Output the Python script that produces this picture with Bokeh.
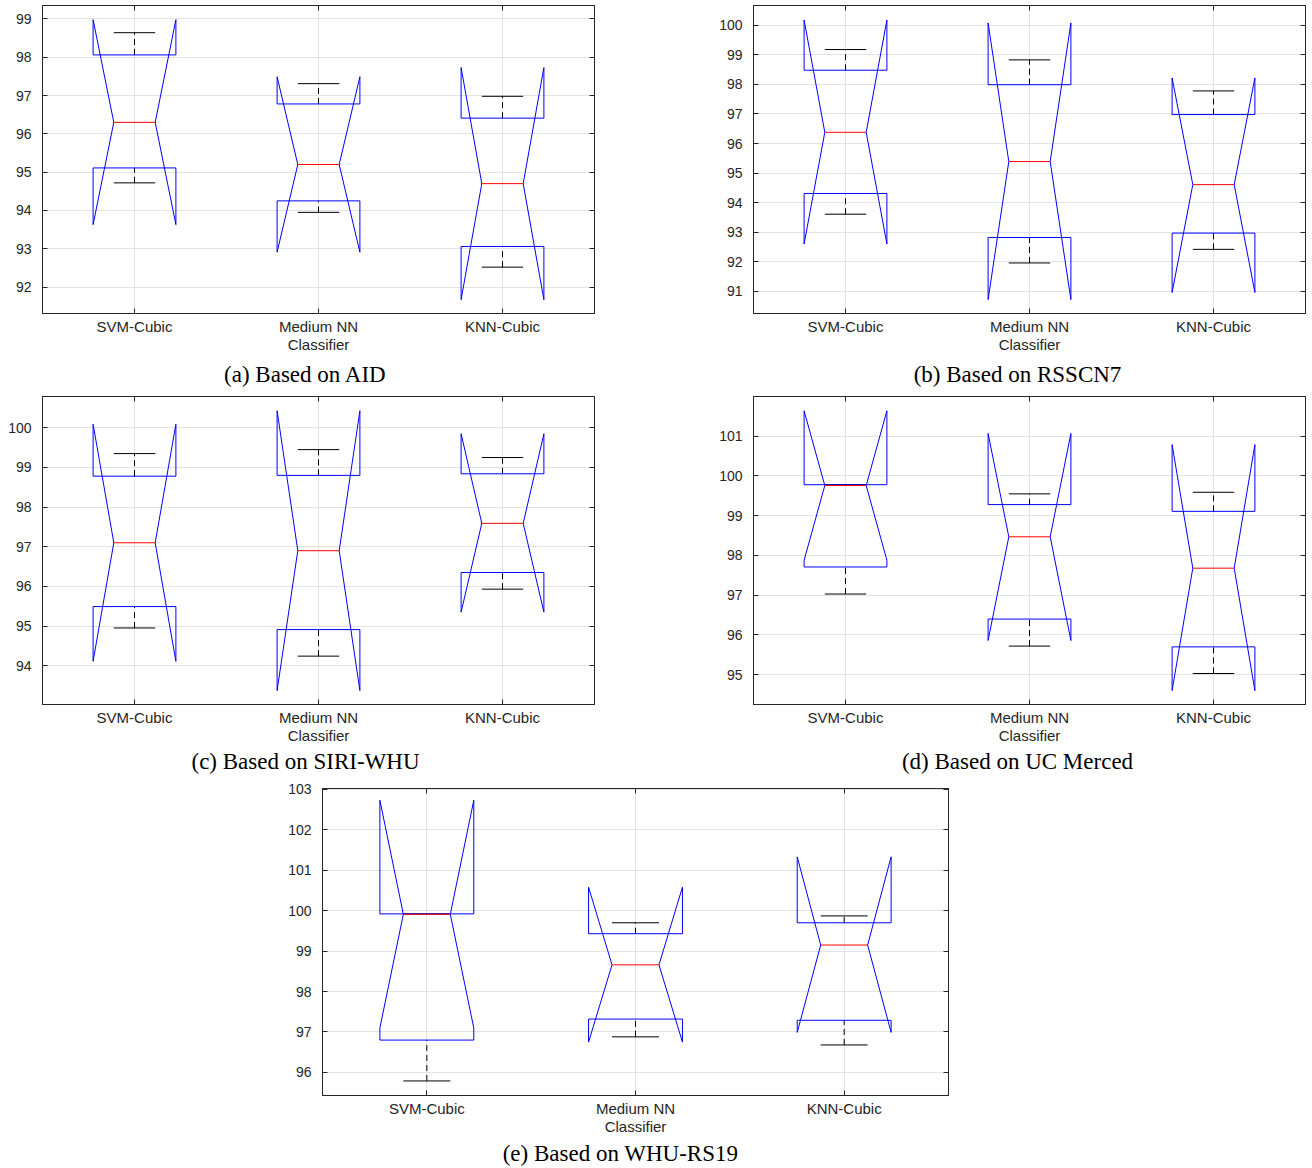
from bokeh.plotting import figure
from bokeh.layouts import column, row
from bokeh.models import (Range1d, FixedTicker, LinearAxis, Title,
                          CustomLabelingPolicy)
from bokeh.embed import file_html
from bokeh.resources import INLINE

# ---- data -------------------------------------------------------------
classifiers = ["SVM-Cubic", "Medium NN", "KNN-Cubic"]
positions = [1, 2, 3]

# AID
aid_q1 = [95.11, 94.25, 93.06]
aid_median = [96.30, 95.20, 94.70]
aid_q3 = [98.06, 96.78, 96.41]
aid_whisker_lo = [94.72, 93.95, 92.52]
aid_whisker_hi = [98.64, 97.31, 96.98]
aid_notch_lo = [93.63, 92.91, 91.67]
aid_notch_hi = [98.98, 97.49, 97.73]

# RSSCN7
rsscn7_q1 = [94.31, 92.82, 92.97]
rsscn7_median = [96.38, 95.39, 94.61]
rsscn7_q3 = [98.48, 97.99, 96.98]
rsscn7_whisker_lo = [93.61, 91.96, 92.42]
rsscn7_whisker_hi = [99.18, 98.83, 97.78]
rsscn7_notch_lo = [92.60, 90.72, 90.96]
rsscn7_notch_hi = [100.18, 100.08, 98.22]

# SIRI-WHU
siri_q1 = [95.49, 94.91, 96.35]
siri_median = [97.10, 96.90, 97.59]
siri_q3 = [98.78, 98.80, 98.84]
siri_whisker_lo = [94.95, 94.24, 95.93]
siri_whisker_hi = [99.35, 99.45, 99.25]
siri_notch_lo = [94.11, 93.37, 95.35]
siri_notch_hi = [100.09, 100.43, 99.85]

# UC Merced
ucm_q1 = [97.71, 96.40, 95.70]
ucm_median = [99.76, 98.47, 97.68]
ucm_q3 = [99.78, 99.28, 99.11]
ucm_whisker_lo = [97.03, 95.72, 95.03]
ucm_whisker_hi = [99.78, 99.55, 99.59]
ucm_notch_lo = [97.88, 95.86, 94.60]
ucm_notch_hi = [101.64, 101.07, 100.79]

# WHU-RS19
whu_q1 = [96.80, 97.32, 97.29]
whu_median = [99.91, 98.66, 99.15]
whu_q3 = [99.92, 99.43, 99.70]
whu_whisker_lo = [95.79, 96.88, 96.68]
whu_whisker_hi = [99.92, 99.70, 99.87]
whu_notch_lo = [97.10, 96.75, 96.99]
whu_notch_hi = [102.73, 100.58, 101.33]

# ---- styling ------------------------------------------------------------
BOX_WIDTH = 0.45
NOTCH = BOX_WIDTH / 4          # notch depth on each side
AXIS_COLOR = "#262626"
GRID_COLOR = "#e3e3e3"
TICK_FONT = "Liberation Sans"
CAPTION_FONT = "Liberation Serif"
CAPTION_SIZE = 23

# advance widths (em) of the serif caption font, used to place captions
SERIF_EM = {"(": .333, ")": .333, " ": .25, "-": .333, "1": .5, "7": .5, "9": .5,
            "a": .444, "b": .5, "c": .444, "d": .5, "e": .444, "n": .5, "o": .5,
            "r": .333, "s": .389, "A": .722, "B": .667, "C": .667, "D": .722,
            "H": .722, "I": .333, "M": .889, "N": .722, "R": .667, "S": .556,
            "U": .722, "W": .944}


def caption_width(text):
    return sum(SERIF_EM.get(ch, .5) for ch in text) * CAPTION_SIZE


def hide_all_labels():
    return CustomLabelingPolicy(code="for (const i of indices) indices.unset(i)")


def notched_box(p, q1, med, q3, wlo, whi, nlo, nhi):
    xs, ys = [], []
    for x, a, m, b, lo, hi in zip(positions, q1, med, q3, nlo, nhi):
        l, r = x - BOX_WIDTH / 2, x + BOX_WIDTH / 2
        xs.append([l, l, l + NOTCH, l, l, r, r, r - NOTCH, r, r, l])
        ys.append([a, lo, m, hi, b, b, hi, m, lo, a, a])

    # dashed whiskers
    p.segment(x0=positions, y0=q3, x1=positions, y1=whi,
              line_color="black", line_width=1, line_dash="6 4")
    p.segment(x0=positions, y0=wlo, x1=positions, y1=q1,
              line_color="black", line_width=1, line_dash="6 4")
    # whisker caps
    left = [x - NOTCH for x in positions]
    right = [x + NOTCH for x in positions]
    p.segment(x0=left, y0=whi, x1=right, y1=whi, line_color="black", line_width=1)
    p.segment(x0=left, y0=wlo, x1=right, y1=wlo, line_color="black", line_width=1)
    # notched box outline
    p.multi_line(xs=xs, ys=ys, line_color="#0000ff", line_width=1)
    # median
    p.segment(x0=left, y0=med, x1=right, y1=med, line_color="#ff0000", line_width=1)


def make_panel(caption, stats, y_lim, y_ticks, frame_w, frame_h,
               border, cap_shift, cap_standoff):
    p = figure(frame_width=frame_w, frame_height=frame_h,
               x_range=Range1d(0.5, 3.5), y_range=Range1d(*y_lim),
               output_backend="svg", toolbar_location=None,
               min_border_left=border[0], min_border_right=border[1],
               min_border_top=border[2], min_border_bottom=border[3],
               background_fill_color="white", border_fill_color="white")
    p.outline_line_color = AXIS_COLOR
    p.outline_line_width = 1

    p.xaxis.ticker = FixedTicker(ticks=positions)
    p.xaxis.major_label_overrides = {x: c for x, c in zip(positions, classifiers)}
    p.yaxis.ticker = FixedTicker(ticks=y_ticks)
    p.xgrid.ticker = FixedTicker(ticks=positions)
    p.ygrid.ticker = FixedTicker(ticks=y_ticks)
    p.grid.grid_line_color = GRID_COLOR
    p.grid.grid_line_width = 1

    for ax in (p.xaxis, p.yaxis):
        ax.axis_line_color = AXIS_COLOR
        ax.major_tick_line_color = AXIS_COLOR
        ax.major_tick_in = 5
        ax.major_tick_out = 0
        ax.minor_tick_line_color = None
        ax.major_label_text_color = AXIS_COLOR
        ax.major_label_text_font = TICK_FONT
    p.xaxis.major_label_text_font_size = "15px"
    p.yaxis.major_label_text_font_size = "14px"
    p.xaxis.major_label_standoff = 4
    p.yaxis.major_label_standoff = 11
    p.xaxis.axis_label = "Classifier"
    p.xaxis.axis_label_text_font = TICK_FONT
    p.xaxis.axis_label_text_font_size = "15px"
    p.xaxis.axis_label_text_font_style = "normal"
    p.xaxis.axis_label_text_color = AXIS_COLOR
    p.xaxis.axis_label_standoff = -2

    # ticks on the opposite sides of the box
    top = LinearAxis(ticker=FixedTicker(ticks=positions), major_tick_in=5,
                     major_tick_out=0, minor_tick_line_color=None,
                     axis_line_color=AXIS_COLOR, major_tick_line_color=AXIS_COLOR,
                     major_label_policy=hide_all_labels(), major_label_standoff=0,
                     major_label_text_font_size="1px")
    right = LinearAxis(ticker=FixedTicker(ticks=y_ticks), major_tick_in=5,
                       major_tick_out=0, minor_tick_line_color=None,
                       axis_line_color=AXIS_COLOR, major_tick_line_color=AXIS_COLOR,
                       major_label_policy=hide_all_labels(), major_label_standoff=0,
                       major_label_text_font_size="1px")
    p.add_layout(top, "above")
    p.add_layout(right, "right")

    notched_box(p, *stats)

    # sub-figure caption underneath the axes, centred slightly left of the frame
    left_pad = frame_w / 2 - cap_shift - caption_width(caption) / 2
    p.add_layout(Title(text=caption, align="left", offset=left_pad,
                       text_font=CAPTION_FONT, text_font_size=f"{CAPTION_SIZE}px",
                       text_font_style="normal", text_color="black",
                       standoff=cap_standoff), "below")
    return p


pa = make_panel("(a) Based on AID",
                (aid_q1, aid_median, aid_q3, aid_whisker_lo, aid_whisker_hi,
                 aid_notch_lo, aid_notch_hi),
                (91.31, 99.35), list(range(92, 100)), 552, 308,
                (42, 56, 5, 75), 13, 9)
pb = make_panel("(b) Based on RSSCN7",
                (rsscn7_q1, rsscn7_median, rsscn7_q3, rsscn7_whisker_lo,
                 rsscn7_whisker_hi, rsscn7_notch_lo, rsscn7_notch_hi),
                (90.25, 100.67), list(range(91, 101)), 552, 308,
                (103, 7, 5, 75), 12, 9)
pc = make_panel("(c) Based on SIRI-WHU",
                (siri_q1, siri_median, siri_q3, siri_whisker_lo, siri_whisker_hi,
                 siri_notch_lo, siri_notch_hi),
                (93.02, 100.79), list(range(94, 101)), 552, 308,
                (42, 56, 5, 74), 13, 1)
pd_ = make_panel("(d) Based on UC Merced",
                 (ucm_q1, ucm_median, ucm_q3, ucm_whisker_lo, ucm_whisker_hi,
                  ucm_notch_lo, ucm_notch_hi),
                 (94.25, 102.0), list(range(95, 102)), 552, 308,
                 (103, 7, 5, 74), 12, 1)
pe = make_panel("(e) Based on WHU-RS19",
                (whu_q1, whu_median, whu_q3, whu_whisker_lo, whu_whisker_hi,
                 whu_notch_lo, whu_notch_hi),
                (95.43, 103.02), list(range(96, 104)), 626, 307,
                (322, 364, 10, 72), 15, 3)

layout = column(row(pa, pb), row(pc, pd_), pe)
open("out.html", "w").write(file_html(layout, INLINE))
